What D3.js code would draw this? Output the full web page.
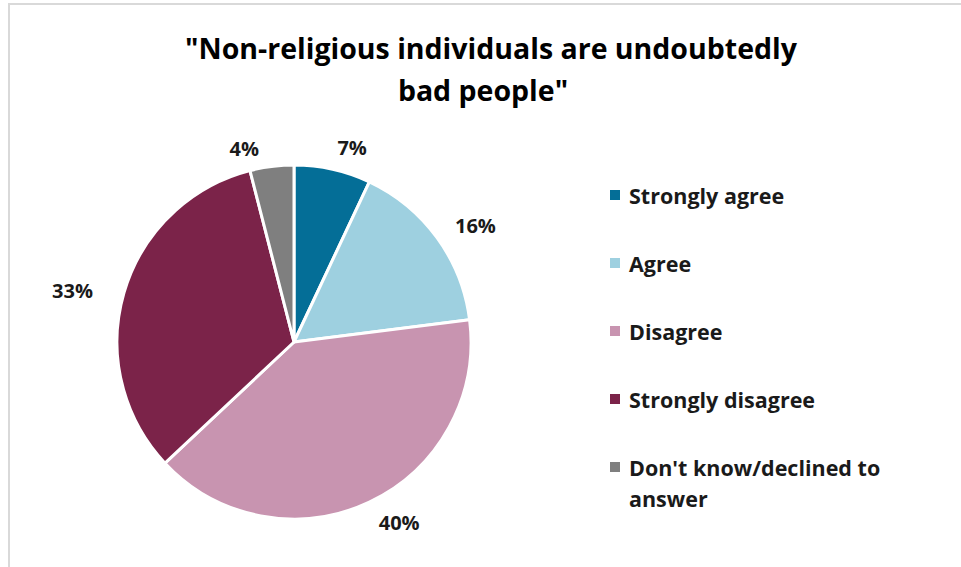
<!DOCTYPE html>
<html>
<head>
<meta charset="utf-8">
<script src="https://cdn.jsdelivr.net/npm/d3@7"></script>
<style>
  body { margin: 0; background: #fff; }
  svg { display: block; font-family: "Open Sans", "Liberation Sans", sans-serif; font-weight: bold; }
</style>
</head>
<body>
<svg id="chart"></svg>
<script>
const categories = ["Strongly agree", "Agree", "Disagree", "Strongly disagree", "Don't know/declined to answer"];
const values = [7, 16, 40, 33, 4];
const colors = ["#046e97", "#9ed0e0", "#c894b0", "#7b2349", "#7f7f7f"];
const titleLines = ["\"Non-religious individuals are undoubtedly", "bad people\""];

function makeChart() {
    let svg_width = 961, svg_height = 567;
    let cx = 294, cy = 342, radius = 177;

    let svg = d3.select('#chart')
        .attr("width", svg_width)
        .attr("height", svg_height);

    // chart frame (only top and left edges show in the crop)
    svg.append('rect')
        .attr('x', 9).attr('y', 4)
        .attr('width', 1000).attr('height', 600)
        .attr('fill', 'none')
        .attr('stroke', '#d9d9d9')
        .attr('stroke-width', 2);

    // title
    svg.append('g').selectAll('text')
        .data(titleLines).enter().append('text')
        .attr('x', (d, i) => i === 0 ? 491 : 483)
        .attr('y', (d, i) => 59 + i * 42)
        .attr('text-anchor', 'middle')
        .attr('font-size', 28.5)
        .attr('fill', '#000')
        .text(d => d);

    let data = categories.map((c, i) => ({ name: c, value: values[i], color: colors[i] }));

    let pie = d3.pie().sort(null).value(d => d.value);
    let arcs = pie(data);

    let arc = d3.arc().innerRadius(0).outerRadius(radius);

    let g = svg.append('g').attr('transform', `translate(${cx},${cy})`);

    g.selectAll('path')
        .data(arcs).enter().append('path')
        .attr('d', arc)
        .attr('fill', d => d.data.color)
        .attr('stroke', '#fff')
        .attr('stroke-width', 3)
        .attr('stroke-linejoin', 'round');

    // percentage labels just outside the slices
    let mid = d => (d.startAngle + d.endAngle) / 2;
    let right = d => Math.sin(mid(d)) >= 0;
    let labelR = radius + 22;
    g.selectAll('text')
        .data(arcs).enter().append('text')
        .attr('x', d => labelR * Math.sin(mid(d)) + (right(d) ? 0 : -10))
        .attr('y', d => -labelR * Math.cos(mid(d)) + (right(d) ? 0 : 4))
        .attr('text-anchor', d => right(d) ? 'start' : 'end')
        .attr('dominant-baseline', 'central')
        .attr('font-size', 20)
        .attr('fill', '#1a1a1a')
        .text(d => d.data.value + '%');

    // legend
    let legendY = d3.scalePoint()
        .domain(categories)
        .range([195, 467]);

    let legend = svg.append('g').selectAll('g')
        .data(data).enter().append('g')
        .attr('transform', d => `translate(610,${legendY(d.name)})`);

    legend.append('rect')
        .attr('x', 0).attr('y', -5)
        .attr('width', 10).attr('height', 10)
        .attr('fill', d => d.color);

    legend.append('text')
        .attr('x', 19)
        .attr('dominant-baseline', 'central')
        .attr('font-size', 21.5)
        .attr('fill', '#1a1a1a')
        .selectAll('tspan')
        .data(d => d.name === "Don't know/declined to answer" ? ["Don't know/declined to", "answer"] : [d.name])
        .enter().append('tspan')
        .attr('x', 19)
        .attr('dy', (t, i) => i === 0 ? 0 : 31)
        .text(t => t);
}

makeChart();
</script>
</body>
</html>
